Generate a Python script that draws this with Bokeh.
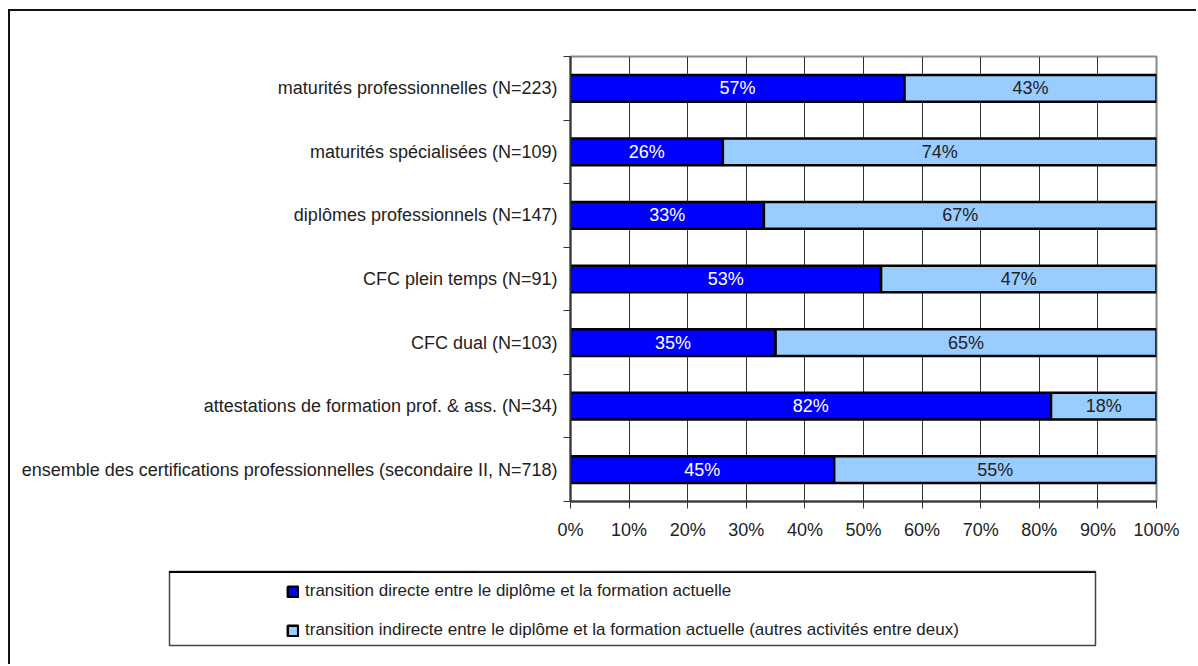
from bokeh.plotting import figure
from bokeh.models import Range1d, FixedTicker, Legend, LegendItem, ColumnDataSource
from bokeh.core.properties import value
from bokeh.embed import file_html
from bokeh.resources import INLINE

categories = [
    "maturités professionnelles (N=223)",
    "maturités spécialisées (N=109)",
    "diplômes professionnels (N=147)",
    "CFC plein temps (N=91)",
    "CFC dual (N=103)",
    "attestations de formation prof. & ass. (N=34)",
    "ensemble des certifications professionnelles (secondaire II, N=718)",
]
direct = [57, 26, 33, 53, 35, 82, 45]
indirect = [43, 74, 67, 47, 65, 18, 55]
series_names = [
    "transition directe entre le diplôme et la formation actuelle",
    "transition indirecte entre le diplôme et la formation actuelle (autres activités entre deux)",
]
x_ticks = [0, 10, 20, 30, 40, 50, 60, 70, 80, 90, 100]

FONT = "'Liberation Sans Narrow', 'Arial Narrow', 'Liberation Sans', Arial, sans-serif"
TXT = "#222222"
DIRECT_C = "#0000FF"
INDIRECT_C = "#99CCFF"
n = len(categories)
ypos = [n - i - 0.5 for i in range(n)]

W = 1188
src = ColumnDataSource(dict(
    y=ypos, d=direct, ind=indirect, end=[a + b for a, b in zip(direct, indirect)],
))

CLIP = "inset(-3px 2px -3px -3px)"

# ---------------- main chart ----------------
p = figure(width=W, height=549, output_backend="svg", toolbar_location=None,
           x_range=Range1d(0, 100), y_range=Range1d(0, n),
           min_border_left=560, min_border_right=W - 1146, min_border_top=45, min_border_bottom=59,
           styles={"box-shadow": "-1px -1px 0 1px #111", "margin-left": "10px", "margin-top": "11px",
                   "clip-path": CLIP})
p.outline_line_color = "#888888"
p.outline_line_width = 2
p.background_fill_color = "white"
p.border_fill_color = "white"

r1 = p.hbar(y="y", left=0, right="d", height=0.42, source=src,
            fill_color=DIRECT_C, line_color="black", line_width=2.5)
r2 = p.hbar(y="y", left="d", right="end", height=0.42, source=src,
            fill_color=INDIRECT_C, line_color="black", line_width=2.5)

lx = [d / 2 for d in direct] + [d + i / 2 for d, i in zip(direct, indirect)]
ly = ypos + ypos
lt = [f"{v}%" for v in direct] + [f"{v}%" for v in indirect]
lc = ["white"] * n + [TXT] * n
p.text(x=lx, y=ly, text=lt, text_color=lc, text_align="center", text_baseline="middle",
       text_font=value(FONT), text_font_size="18px")

p.xaxis.ticker = FixedTicker(ticks=x_ticks)
p.xaxis.major_label_overrides = {t: f"{t}%" for t in x_ticks}
p.xaxis.major_tick_out = 7
p.xaxis.major_tick_in = 0
p.xaxis.minor_tick_out = 0
p.xaxis.axis_line_color = "#333333"
p.xaxis.axis_line_width = 2
p.xaxis.major_tick_line_color = "#333333"
p.xaxis.major_label_text_font = FONT
p.xaxis.major_label_text_font_size = "18px"
p.xaxis.major_label_text_color = TXT
p.xaxis.major_label_standoff = 11

p.yaxis.ticker = FixedTicker(ticks=ypos, minor_ticks=list(range(n + 1)))
p.yaxis.major_label_overrides = {y: c for y, c in zip(ypos, categories)}
p.yaxis.major_tick_out = 0
p.yaxis.major_tick_in = 0
p.yaxis.minor_tick_out = 7
p.yaxis.minor_tick_in = 0
p.yaxis.minor_tick_line_color = "#333333"
p.yaxis.axis_line_color = "#333333"
p.yaxis.axis_line_width = 2
p.yaxis.major_label_text_font = FONT
p.yaxis.major_label_text_font_size = "18px"
p.yaxis.major_label_text_color = TXT
p.yaxis.major_label_standoff = 6

p.xgrid.ticker = FixedTicker(ticks=x_ticks)
p.xgrid.grid_line_color = "#333333"
p.xgrid.grid_line_width = 1
p.ygrid.grid_line_color = None

# ---------------- legend panel ----------------
p2 = figure(width=W, height=104, output_backend="svg", toolbar_location=None,
            x_range=Range1d(0, 100), y_range=Range1d(-20, -10),
            x_axis_location=None, y_axis_location=None,
            min_border_left=159, min_border_right=W - 1085, min_border_top=11, min_border_bottom=19,
            styles={"box-shadow": "-2px 0 0 0 #111", "margin-left": "10px", "clip-path": CLIP})
p2.grid.grid_line_color = None
p2.outline_line_color = "#444444"
p2.outline_line_width = 1.5
lr1 = p2.hbar(y="y", left=0, right="d", height=0.42, source=src,
              fill_color=DIRECT_C, line_color="black", line_width=2.5)
lr2 = p2.hbar(y="y", left="d", right="end", height=0.42, source=src,
              fill_color=INDIRECT_C, line_color="black", line_width=2.5)
legend = Legend(items=[LegendItem(label=series_names[0], renderers=[lr1]),
                       LegendItem(label=series_names[1], renderers=[lr2])],
                location=(117, 5), orientation="vertical",
                border_line_alpha=0, background_fill_alpha=0,
                glyph_width=13, glyph_height=13, label_standoff=6, spacing=19,
                padding=0, margin=0,
                label_text_font=FONT, label_text_font_size="17px", label_text_color=TXT)
p2.add_layout(legend, "center")

open("out.html", "w").write(file_html([p, p2], INLINE))
